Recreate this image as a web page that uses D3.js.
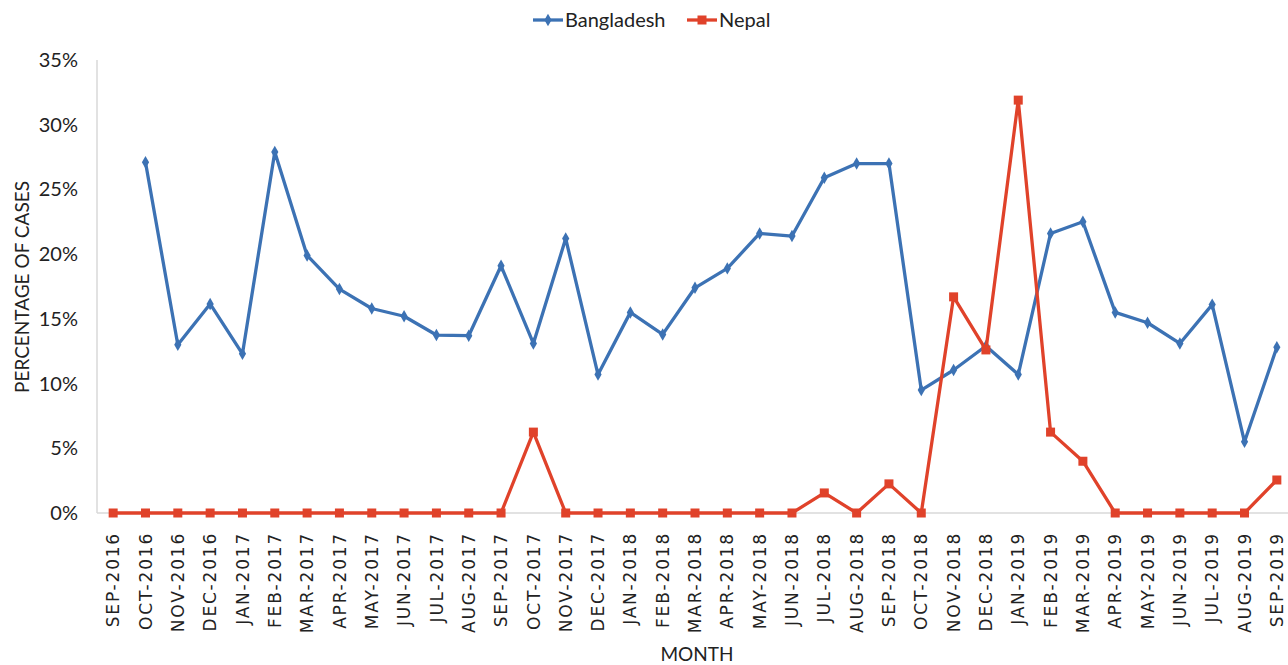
<!DOCTYPE html>
<html><head><meta charset="utf-8">
<script src="https://cdn.jsdelivr.net/npm/d3@7"></script>
<style>body{margin:0;background:#fff;}svg{display:block;}</style>
</head><body>
<svg id="c" width="1288" height="665"></svg>
<script>
const months = ["SEP-2016","OCT-2016","NOV-2016","DEC-2016","JAN-2017","FEB-2017","MAR-2017","APR-2017","MAY-2017","JUN-2017","JUL-2017","AUG-2017","SEP-2017","OCT-2017","NOV-2017","DEC-2017","JAN-2018","FEB-2018","MAR-2018","APR-2018","MAY-2018","JUN-2018","JUL-2018","AUG-2018","SEP-2018","OCT-2018","NOV-2018","DEC-2018","JAN-2019","FEB-2019","MAR-2019","APR-2019","MAY-2019","JUN-2019","JUL-2019","AUG-2019","SEP-2019"];
const bangladesh = [null,27.1,13.0,16.15,12.3,27.9,19.9,17.3,15.8,15.2,13.75,13.7,19.1,13.1,21.2,10.7,15.5,13.8,17.4,18.9,21.6,21.4,25.9,27.0,27.0,9.5,11.05,12.9,10.7,21.6,22.5,15.5,14.7,13.1,16.1,5.5,12.8];
const nepal = [0,0,0,0,0,0,0,0,0,0,0,0,0,6.25,0,0,0,0,0,0,0,0,1.55,0,2.25,0,16.7,12.6,31.9,6.25,4.0,0,0,0,0,0,2.55];
const yTicks = [0,5,10,15,20,25,30,35];
const seriesNames = ["Bangladesh","Nepal"];
const colors = ["#3c72b4","#e0422a"];

const svg = d3.select("#c");
const pL = 97, pT = 60, pB = 513, pR = 1293;
const x = d3.scalePoint().domain(months).range([pL, pR]).padding(0.5);
const y = d3.scaleLinear().domain([0,35]).range([pB, pT]);

svg.append("line").attr("x1",pL).attr("x2",pL).attr("y1",pT).attr("y2",pB).attr("stroke","#d9d9d9").attr("stroke-width",1.5);
svg.append("line").attr("x1",pL).attr("x2",1288).attr("y1",pB).attr("y2",pB).attr("stroke","#d9d9d9").attr("stroke-width",1.5);

svg.append("g").selectAll("text").data(yTicks).join("text")
  .attr("x",78).attr("y",d=>y(d)).attr("dy","0.35em").attr("text-anchor","end")
  .attr("font-family","Lato, 'Liberation Sans', sans-serif").attr("font-size",20).attr("fill","#222")
  .text(d=>d+"%");

svg.append("g").selectAll("text").data(months).join("text")
  .attr("transform",d=>`translate(${x(d)},532) rotate(-90)`)
  .attr("dy","0.36em").attr("text-anchor","end")
  .attr("font-family","'DejaVu Sans', sans-serif").attr("font-size",17).attr("letter-spacing",1.8).attr("fill","#222")
  .text(d=>d);

svg.append("text").attr("transform","translate(22,287) rotate(-90)").attr("text-anchor","middle")
  .attr("dy","0.35em").attr("font-family","Lato, sans-serif").attr("font-size",19).attr("fill","#222")
  .text("PERCENTAGE OF CASES");
svg.append("text").attr("x",697).attr("y",654).attr("dy","0.35em").attr("text-anchor","middle")
  .attr("font-family","Lato, sans-serif").attr("font-size",19).attr("fill","#222").text("MONTH");

const line = d3.line().defined(d=>d.v!=null).x(d=>x(d.m)).y(d=>y(d.v));
const data = [bangladesh, nepal].map(arr=>arr.map((v,i)=>({m:months[i],v})));

data.forEach((ser,si)=>{
  svg.append("path").datum(ser).attr("d",line).attr("fill","none")
    .attr("stroke",colors[si]).attr("stroke-width",3.3).attr("stroke-linejoin","round");
  const pts = ser.filter(d=>d.v!=null);
  if(si===0){
    svg.append("g").selectAll("path").data(pts).join("path")
      .attr("d",d3.symbol(d3.symbolDiamond,45)())
      .attr("transform",d=>`translate(${x(d.m)},${y(d.v)})`).attr("fill",colors[0]);
  } else {
    svg.append("g").selectAll("rect").data(pts).join("rect")
      .attr("x",d=>x(d.m)-4.5).attr("y",d=>y(d.v)-4.5).attr("width",9).attr("height",9).attr("fill",colors[1]);
  }
});

const lg = svg.append("g");
const legendX = [533, 687];
seriesNames.forEach((n,i)=>{
  const lx = legendX[i];
  lg.append("line").attr("x1",lx).attr("x2",lx+30).attr("y1",20).attr("y2",20).attr("stroke",colors[i]).attr("stroke-width",3.3);
  if(i===0) lg.append("path").attr("d",d3.symbol(d3.symbolDiamond,45)()).attr("transform",`translate(${lx+15},20)`).attr("fill",colors[0]);
  else lg.append("rect").attr("x",lx+15-4.5).attr("y",15.5).attr("width",9).attr("height",9).attr("fill",colors[1]);
  lg.append("text").attr("x",lx+32).attr("y",20).attr("dy","0.35em").attr("font-family","Lato, sans-serif").attr("font-size",20).attr("fill","#222").text(n);
});
</script>
</body></html>
